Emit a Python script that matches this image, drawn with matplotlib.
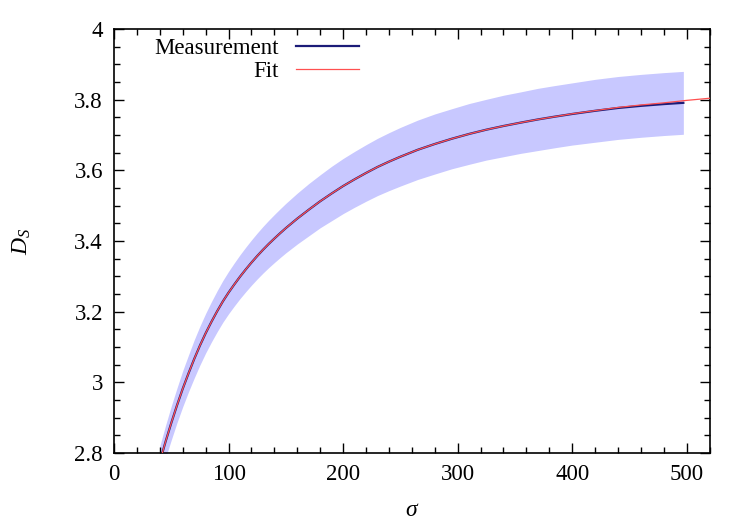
import matplotlib
matplotlib.use("Agg")
import matplotlib.pyplot as plt
from matplotlib.ticker import MultipleLocator

sigma = [40, 45, 50, 55, 60, 65, 70, 75, 80, 85, 90, 95, 100, 105, 110, 115,
         120, 125, 130, 135, 140, 145, 150, 160, 170, 180, 190, 200, 210, 220,
         230, 240, 250, 265, 280, 295, 310, 325, 340, 355, 370, 385, 400, 420,
         440, 460, 480, 497]
D_meas = [2.775, 2.832, 2.885, 2.935, 2.982, 3.025, 3.066, 3.104, 3.139, 3.171,
          3.201, 3.229, 3.254, 3.277, 3.299, 3.3195, 3.339, 3.3575, 3.375,
          3.3915, 3.407, 3.422, 3.4365, 3.4635, 3.4885, 3.5125, 3.5345, 3.5555,
          3.5745, 3.5925, 3.6095, 3.6245, 3.6385, 3.658, 3.6745, 3.6895, 3.703,
          3.715, 3.7255, 3.735, 3.744, 3.752, 3.7595, 3.7685, 3.7765, 3.7825,
          3.7875, 3.791]
D_err = [0.045, 0.046, 0.048, 0.049, 0.051, 0.052, 0.054, 0.055, 0.056, 0.057,
         0.058, 0.059, 0.060, 0.061, 0.062, 0.063, 0.064, 0.065, 0.066, 0.067,
         0.068, 0.069, 0.070, 0.072, 0.074, 0.075, 0.077, 0.078, 0.079, 0.080,
         0.081, 0.082, 0.083, 0.084, 0.085, 0.085, 0.086, 0.086, 0.087, 0.087,
         0.088, 0.088, 0.088, 0.089, 0.089, 0.089, 0.089, 0.089]

# fit curve
sigma_fit = [35, 40, 45, 50, 55, 60, 65, 70, 75, 80, 85, 90, 95, 100, 105, 110,
             115, 120, 125, 130, 135, 140, 145, 150, 160, 170, 180, 190, 200,
             210, 220, 230, 240, 250, 265, 280, 295, 310, 325, 340, 355, 370,
             385, 400, 420, 440, 460, 480, 500, 520]
D_fit = [2.713, 2.775, 2.832, 2.885, 2.935, 2.982, 3.025, 3.066, 3.104, 3.139,
         3.171, 3.201, 3.229, 3.254, 3.277, 3.299, 3.3195, 3.339, 3.3575, 3.375,
         3.3915, 3.407, 3.422, 3.4365, 3.4635, 3.4885, 3.5125, 3.5345, 3.5555,
         3.5745, 3.5925, 3.6095, 3.6245, 3.6385, 3.658, 3.6745, 3.6895, 3.703,
         3.715, 3.7255, 3.735, 3.744, 3.752, 3.760, 3.769, 3.778, 3.785,
         3.791, 3.798, 3.804]

plt.rcParams['font.family'] = ['Liberation Serif', 'DejaVu Serif']
plt.rcParams['mathtext.fontset'] = 'custom'
plt.rcParams['mathtext.it'] = 'Liberation Serif:italic'
plt.rcParams['mathtext.rm'] = 'Liberation Serif'

fig = plt.figure(figsize=(7.55, 5.30), dpi=100)
ax = fig.add_axes([0.151, 0.1453, 0.789, 0.8])

# error band (gnuplot draws it as dense pale error bars)
lo = [d - e for d, e in zip(D_meas, D_err)]
hi = [d + e for d, e in zip(D_meas, D_err)]
ax.fill_between(sigma, lo, hi, color='#c8c8ff', linewidth=0, zorder=1)
ax.plot(sigma, D_meas, color='#1c1c78', linewidth=1.6, label='Measurement', zorder=2)
ax.plot(sigma_fit, D_fit, color='#ff5050', linewidth=0.9, label='Fit', zorder=3)

ax.set_xlim(0, 520)
ax.set_ylim(2.8, 4.0)
ax.xaxis.set_major_locator(MultipleLocator(100))
ax.xaxis.set_minor_locator(MultipleLocator(20))
ax.yaxis.set_minor_locator(MultipleLocator(0.05))
ax.set_yticks([2.8, 3.0, 3.2, 3.4, 3.6, 3.8, 4.0])
ax.set_yticklabels(['2.8', '3', '3.2', '3.4', '3.6', '3.8', '4'])
ax.tick_params(which='both', direction='in', top=True, right=True, labelsize=16.5, width=1)
ax.tick_params(which='major', length=7, pad=8)
ax.tick_params(which='minor', length=4)
for s in ax.spines.values():
    s.set_linewidth(1.2)

ax.set_xlabel(r'$\sigma$', fontsize=17, labelpad=11)
ax.set_ylabel(r'$D_S$', fontsize=17, labelpad=30)

leg = ax.legend(loc='upper left', bbox_to_anchor=(0.045, 1.012), frameon=False,
                markerfirst=False, fontsize=16.5, handlelength=2.75,
                borderpad=0.1, labelspacing=0.1, handletextpad=0.75)
for t in leg.get_texts():
    t.set_ha('right')
leg._legend_box.align = 'right'

fig.savefig('out.png', dpi=100)
